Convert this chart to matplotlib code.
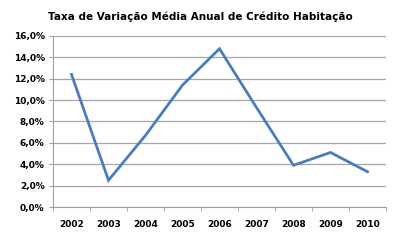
import matplotlib.pyplot as plt
import numpy as np
from matplotlib.ticker import FuncFormatter

years = ["2002", "2003", "2004", "2005", "2006", "2007", "2008", "2009", "2010"]
taxa = [12.4, 2.5, 6.7, 11.4, 14.8, 9.3, 3.9, 5.1, 3.3]
y_ticks = [0, 2, 4, 6, 8, 10, 12, 14, 16]

fig = plt.figure(figsize=(4.0, 2.41), dpi=100)
ax = fig.add_axes([0.1325, 0.141, 0.8325, 0.71])

x = np.arange(len(years))
ax.plot(x, taxa, color="#4a7ebb", linewidth=2.0, solid_joinstyle="miter")

ax.set_xlim(-0.5, len(years) - 0.5)
ax.set_ylim(0, 16)
ax.set_yticks(y_ticks)
ax.yaxis.set_major_formatter(FuncFormatter(lambda v, p: f"{v:.1f}%".replace(".", ",")))
ax.set_xticks(x)
ax.set_xticklabels(years)
ax.set_xticks(np.arange(-0.5, len(years)), minor=True)

ax.grid(axis="y", color="#a6a6a6", linewidth=0.9)
ax.set_axisbelow(True)
for s in ["top", "right"]:
    ax.spines[s].set_visible(False)
ax.spines["left"].set_color("#a0a0a0")
ax.spines["left"].set_linestyle((0, (1, 1)))
ax.spines["bottom"].set_color("#a0a0a0")

ax.tick_params(axis="x", which="major", length=0, pad=9, labelsize=6.5)
ax.tick_params(axis="x", which="minor", length=3, color="#a0a0a0", direction="out")
ax.tick_params(axis="y", length=3, color="#a0a0a0", labelsize=6.5, pad=3)
for lbl in ax.get_xticklabels() + ax.get_yticklabels():
    lbl.set_fontweight("bold")

fig.text(0.5, 0.93, "Taxa de Variação Média Anual de Crédito Habitação",
         ha="center", va="center", fontsize=7.5, fontweight="bold")

fig.savefig("out.png", dpi=100)
